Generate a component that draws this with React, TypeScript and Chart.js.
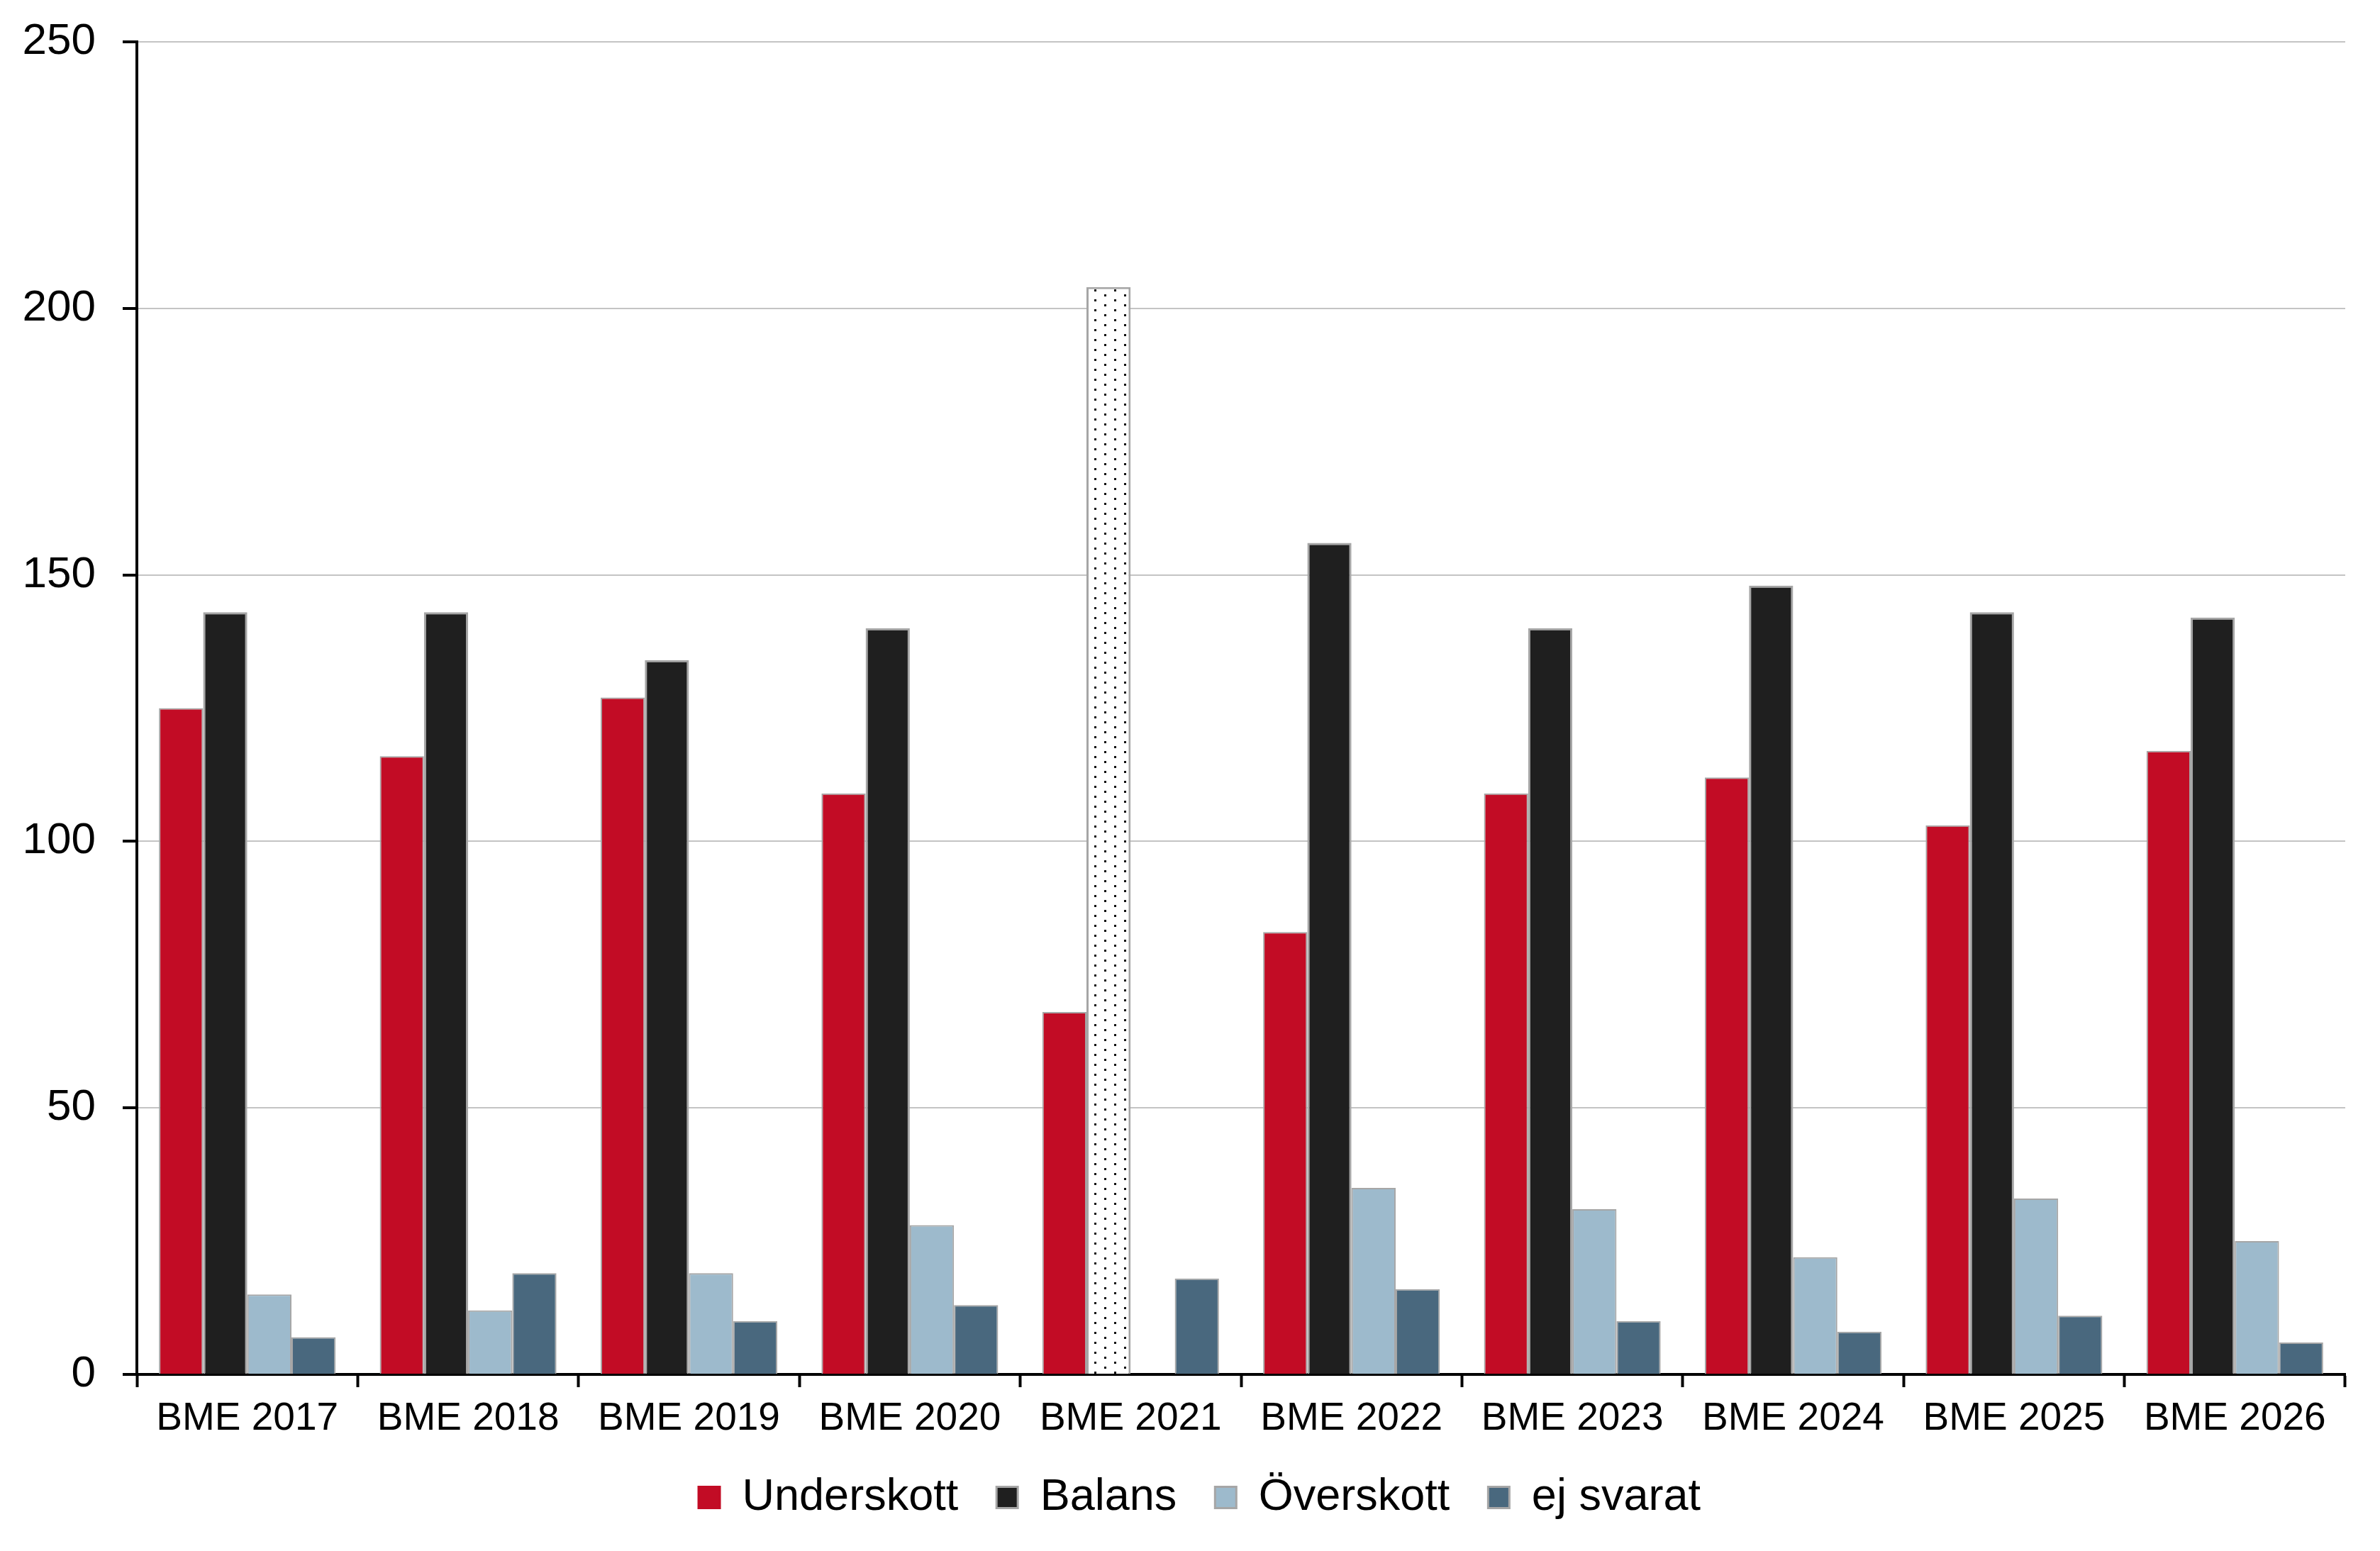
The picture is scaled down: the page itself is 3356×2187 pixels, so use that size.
import React, { useEffect, useRef } from "react";
import { Chart, registerables } from "chart.js";

Chart.register(...registerables);

const categories = [
  "BME 2017", "BME 2018", "BME 2019", "BME 2020", "BME 2021",
  "BME 2022", "BME 2023", "BME 2024", "BME 2025", "BME 2026",
];
const underskott = [125, 116, 127, 109, 68, 83, 109, 112, 103, 117];
const balans = [143, 143, 134, 140, 204, 156, 140, 148, 143, 142];
const overskott = [15, 12, 19, 28, null, 35, 31, 22, 33, 25];
const ejSvarat = [7, 19, 10, 13, 18, 16, 10, 8, 11, 6];
const yTicks = [0, 50, 100, 150, 200, 250];

// Index of the Balans bar that is drawn with a dotted fill
const dottedIndex = 4;

const FONT = "'Liberation Sans', Arial, sans-serif";
const EDGE = "#a6a6a6";

function dotPattern(ctx: CanvasRenderingContext2D): CanvasPattern | string {
  const tile = document.createElement("canvas");
  tile.width = 28;
  tile.height = 14;
  const t = tile.getContext("2d");
  if (!t) return "#ffffff";
  t.fillStyle = "#ffffff";
  t.fillRect(0, 0, 28, 14);
  t.fillStyle = "#111111";
  t.fillRect(3, 2, 3, 3);
  t.fillRect(17, 9, 3, 3);
  return ctx.createPattern(tile, "repeat") || "#ffffff";
}

// Nudges the bottom legend after layout so it sits closer to the axis labels
const legendShift = {
  id: "legendShift",
  afterLayout(chart: any) {
    const lg = chart.legend;
    if (!lg) return;
    const dy = -20;
    const dx = 22;
    lg.top += dy;
    lg.bottom += dy;
    lg.left += dx;
    lg.right += dx;
  },
};

export default function App() {
  const canvasRef = useRef<HTMLCanvasElement | null>(null);

  useEffect(() => {
    const canvas = canvasRef.current;
    if (!canvas) return;
    const ctx = canvas.getContext("2d");
    if (!ctx) return;
    const pattern = dotPattern(ctx);
    const balansFill = balans.map((_, i) => (i === dottedIndex ? pattern : "#1f1f1f"));

    const chart = new Chart(ctx, {
      type: "bar",
      data: {
        labels: categories,
        datasets: [
          { label: "Underskott", data: underskott, backgroundColor: "#c20c25", borderColor: EDGE, borderWidth: 2 },
          { label: "Balans", data: balans, backgroundColor: balansFill as any, borderColor: EDGE, borderWidth: 3 },
          { label: "Överskott", data: overskott, backgroundColor: "#9dbacc", borderColor: EDGE, borderWidth: 2 },
          { label: "ej svarat", data: ejSvarat, backgroundColor: "#49687e", borderColor: EDGE, borderWidth: 2 },
        ],
      },
      plugins: [legendShift],
      options: {
        responsive: false,
        animation: false,
        maintainAspectRatio: false,
        layout: { padding: { left: 32, right: 49, top: 59, bottom: 14 } },
        datasets: {
          bar: { categoryPercentage: 0.8, barPercentage: 1.0, borderSkipped: "bottom" },
        },
        plugins: {
          tooltip: { enabled: false },
          legend: {
            position: "bottom",
            labels: {
              color: "#000",
              font: { family: FONT, size: 63 },
              boxWidth: 30,
              boxHeight: 30,
              padding: 54,
              generateLabels: (c) =>
                c.data.datasets.map((d, i) => ({
                  text: d.label as string,
                  fillStyle: i === 1 ? "#1f1f1f" : (d.backgroundColor as string),
                  strokeStyle: i === 0 ? "#c20c25" : EDGE,
                  lineWidth: 3,
                  hidden: false,
                  datasetIndex: i,
                })),
            },
          },
        },
        scales: {
          x: {
            offset: true,
            afterFit: (s: any) => {
              s.paddingLeft = 0;
              s.paddingRight = 0;
            },
            grid: {
              offset: true,
              drawOnChartArea: false,
              drawTicks: true,
              tickLength: 18,
              tickColor: "#000",
              tickWidth: 4,
            },
            border: { color: "#000", width: 4 },
            ticks: { color: "#000", font: { family: FONT, size: 55 }, padding: 12, maxRotation: 0 },
          },
          y: {
            min: 0,
            max: 250,
            afterFit: (s: any) => {
              s.width = 161;
              s.paddingTop = 0;
              s.paddingBottom = 0;
            },
            afterBuildTicks: (axis) => {
              axis.ticks = yTicks.map((v) => ({ value: v }));
            },
            grid: {
              color: "#c4c4c4",
              lineWidth: 2,
              tickColor: "#000",
              tickLength: 20,
              tickWidth: 4,
            },
            border: { color: "#000", width: 4 },
            ticks: { color: "#000", font: { family: FONT, size: 62 }, padding: 38 },
          },
        },
      },
    });
    return () => chart.destroy();
  }, []);

  return (
    <div style={{ position: "fixed", left: 0, top: 0, width: 3356, height: 2187, background: "#fff" }}>
      <canvas ref={canvasRef} width={3356} height={2187} style={{ display: "block" }} />
    </div>
  );
}
